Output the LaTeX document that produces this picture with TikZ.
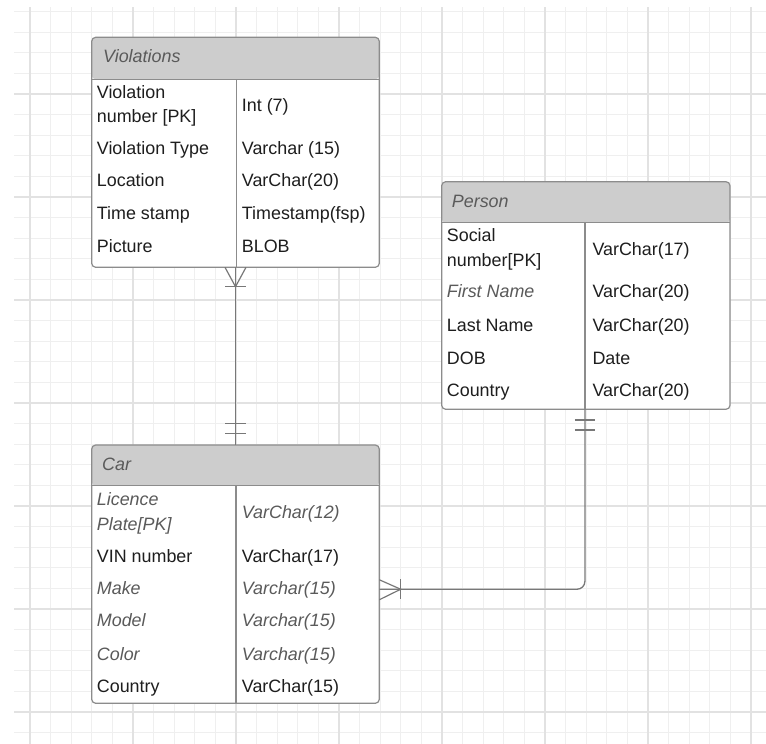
\documentclass[tikz,border=0pt]{standalone}
\usepackage{fontspec}
\setmainfont{Liberation Sans}
\usetikzlibrary{calc}
\definecolor{gridminor}{HTML}{EFEFEF}
\definecolor{gridmajor}{HTML}{E2E2E2}
\definecolor{boxline}{HTML}{8C8C8C}
\definecolor{headfill}{HTML}{CDCDCD}
\definecolor{txt}{HTML}{1E1E1E}
\definecolor{txtit}{HTML}{5A5A5A}
\definecolor{linkcol}{HTML}{787878}
\newcommand{\erfont}{\fontsize{17.9}{24.5}\selectfont}
% two stacked lines whose baseline is the first line's
\newcommand{\twolines}[2]{\vtop{\hbox{#1}\hbox{#2}}}
\begin{document}
\begin{tikzpicture}[x=1pt,y=-1pt,
  tablebox/.style={draw=boxline, line width=1.2pt, fill=white, rounded corners=4pt,
    inner sep=0pt, outer sep=0pt, anchor=north west,
    path picture={\fill[headfill] (path picture bounding box.north west)
      rectangle ([yshift=-#1]path picture bounding box.north east);}},
  rule/.style={draw=boxline, line width=1.2pt},
  field/.style={anchor=base west, inner sep=0pt, text=txt, font=\erfont},
  fieldit/.style={field, text=txtit, font=\erfont\itshape},
  title/.style={fieldit},
  link/.style={draw=linkcol, line width=1.3pt},
  notch/.style={draw=linkcol, line width=1.2pt}
]
\useasboundingbox (0,0) rectangle (766,744);
\fill[white] (0,0) rectangle (766,744);

% background grid: fine lines every 20.6, heavier ones every fifth line
\foreach \k in {0,...,35} {
  \draw[gridminor, line width=1.2pt] ({30+20.6*\k},7) -- ({30+20.6*\k},744);
  \draw[gridminor, line width=1.2pt] (14,{11.6+20.6*\k}) -- (766,{11.6+20.6*\k});
}
\foreach \k in {0,...,7} {
  \draw[gridmajor, line width=1.4pt] ({30+103*\k},7) -- ({30+103*\k},744);
  \draw[gridmajor, line width=1.4pt] (14,{94+103*(\k-1)}) -- (766,{94+103*(\k-1)});
}

% ---- Violations table ----
\node[tablebox=42pt, minimum width=287.6pt, minimum height=230pt] (viol) at (91.7,37.3) {};
\draw[rule] ($(viol.north west)+(0,42)$) -- ($(viol.north east)+(0,42)$);
\draw[rule] ($(viol.north west)+(145,42)$) -- ($(viol.south west)+(145,0)$);
\node[title] (violT) at (103,62.7) {Violations};
\node[field] (v1k) at (96.7,98.3) {\twolines{Violation}{number [PK]}};
\node[field] (v1t) at (241.7,111.7) {Int (7)};
\node[field] (v2k) at (96.7,154.3) {Violation Type};
\node[field] (v2t) at (241.7,154.3) {Varchar (15)};
\node[field] (v3k) at (96.7,186.7) {Location};
\node[field] (v3t) at (241.7,186.7) {VarChar(20)};
\node[field] (v4k) at (96.7,219.3) {Time stamp};
\node[field] (v4t) at (241.7,219.3) {Timestamp(fsp)};
\node[field] (v5k) at (96.7,252.7) {Picture};
\node[field] (v5t) at (241.7,252.7) {BLOB};

% ---- Person table ----
\node[tablebox=41pt, minimum width=288.3pt, minimum height=227.6pt] (person) at (441.7,181.7) {};
\draw[rule] ($(person.north west)+(0,41)$) -- ($(person.north east)+(0,41)$);
\draw[rule] ($(person.north west)+(143.3,41)$) -- ($(person.south west)+(143.3,0)$);
\node[title] (personT) at (451.7,207.3) {Person};
\node[field] (p1k) at (446.7,241.7) {\twolines{Social}{number[PK]}};
\node[field] (p1t) at (592.3,255) {VarChar(17)};
\node[fieldit] (p2k) at (446.7,297.7) {First Name};
\node[field] (p2t) at (592.3,297.7) {VarChar(20)};
\node[field] (p3k) at (446.7,331.7) {Last Name};
\node[field] (p3t) at (592.3,331.7) {VarChar(20)};
\node[field] (p4k) at (446.7,364) {DOB};
\node[field] (p4t) at (592.3,364) {Date};
\node[field] (p5k) at (446.7,396.7) {Country};
\node[field] (p5t) at (592.3,396.7) {VarChar(20)};

% ---- Car table ----
\node[tablebox=40.7pt, minimum width=287.6pt, minimum height=258.3pt] (car) at (91.7,445) {};
\draw[rule] ($(car.north west)+(0,40.7)$) -- ($(car.north east)+(0,40.7)$);
\draw[rule] ($(car.north west)+(144.3,40.7)$) -- ($(car.south west)+(144.3,0)$);
\node[title] (carT) at (102,470) {Car};
\node[fieldit] (c1k) at (96.7,505.7) {\twolines{Licence}{Plate[PK]}};
\node[fieldit] (c1t) at (241.7,518.3) {VarChar(12)};
\node[field] (c2k) at (96.7,562.7) {VIN number};
\node[field] (c2t) at (241.7,562.7) {VarChar(17)};
\node[fieldit] (c3k) at (96.7,594.3) {Make};
\node[fieldit] (c3t) at (241.7,594.3) {Varchar(15)};
\node[fieldit] (c4k) at (96.7,626.7) {Model};
\node[fieldit] (c4t) at (241.7,626.7) {Varchar(15)};
\node[fieldit] (c5k) at (96.7,660) {Color};
\node[fieldit] (c5t) at (241.7,660) {Varchar(15)};
\node[field] (c6k) at (96.7,692.7) {Country};
\node[field] (c6t) at (241.7,692.7) {VarChar(15)};

% ---- Violations (many) to Car (one and only one) ----
\draw[link] (viol.south) -- (car.north);
\draw[notch] ($(viol.south)+(-10.5,0)$) -- ($(viol.south)+(0,19.4)$) -- ($(viol.south)+(10.5,0)$);
\draw[notch] ($(viol.south)+(-10.5,19.4)$) -- ($(viol.south)+(10.5,19.4)$);
\draw[notch] ($(car.north)+(-10.5,-21.7)$) -- ($(car.north)+(10.5,-21.7)$);
\draw[notch] ($(car.north)+(-10.5,-11.7)$) -- ($(car.north)+(10.5,-11.7)$);

% ---- Person (one and only one) to Car (one or many) ----
\coordinate (carport) at ($(car.east)+(0,15.1)$);
\coordinate (personport) at ($(person.south)+(-0.9,0)$);
\draw[link, rounded corners=8pt] (personport) |- (carport);
\draw[notch] ($(personport)+(-10,10.7)$) -- ($(personport)+(10,10.7)$);
\draw[notch] ($(personport)+(-10,20.7)$) -- ($(personport)+(10,20.7)$);
\draw[notch] ($(carport)+(0,-9.5)$) -- ($(carport)+(21.4,0)$) -- ($(carport)+(0,10.5)$);
\draw[notch] ($(carport)+(21.4,-10)$) -- ($(carport)+(21.4,10)$);
\end{tikzpicture}
\end{document}
